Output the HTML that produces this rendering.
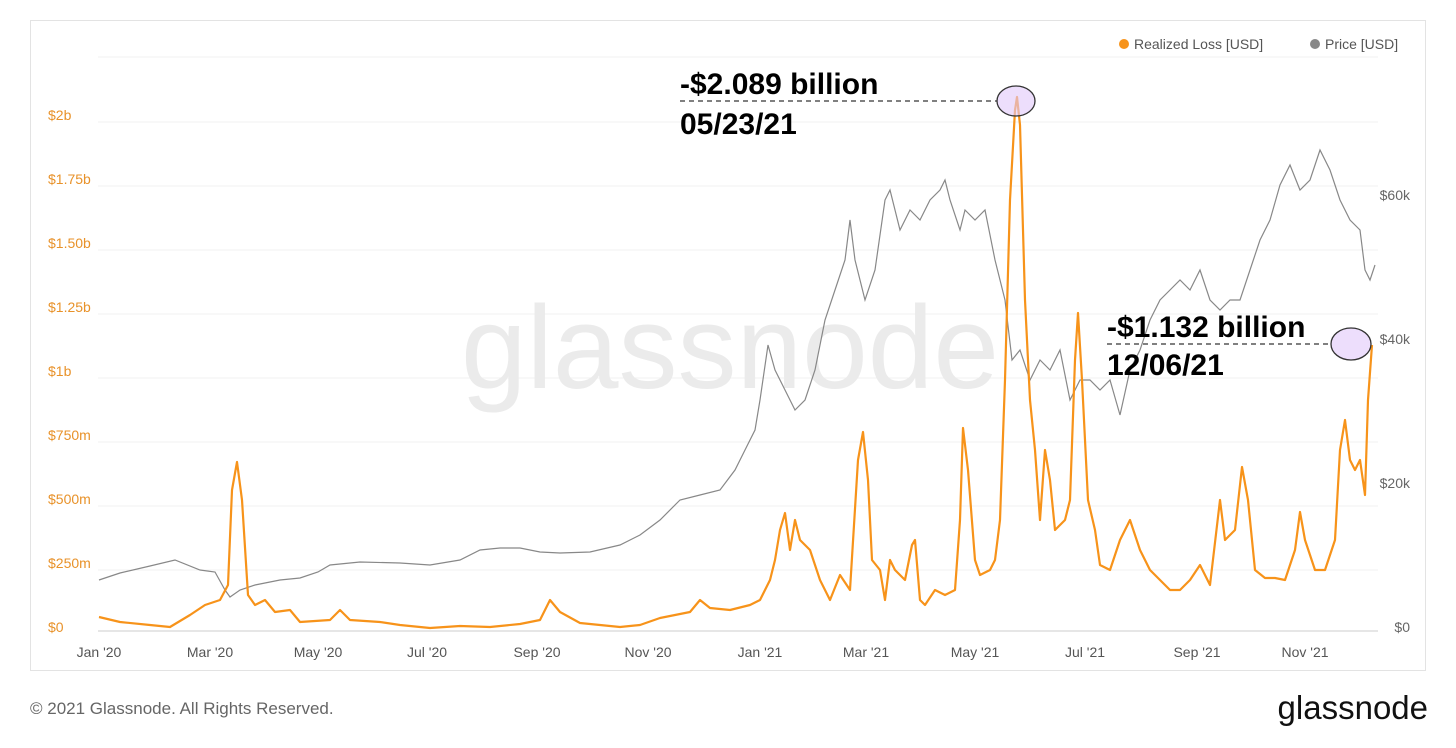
<!DOCTYPE html>
<html><head><meta charset="utf-8"><style>
body{margin:0;background:#fff;width:1456px;height:743px;overflow:hidden;font-family:"Liberation Sans",sans-serif}
</style></head><body>
<svg width="1456" height="743" viewBox="0 0 1456 743" xmlns="http://www.w3.org/2000/svg" font-family="Liberation Sans, sans-serif">
<rect x="30.5" y="20.5" width="1395" height="650" fill="#fff" stroke="#e3e3e3"/>
<g stroke="#f0f0f0" stroke-width="1">
<line x1="98" x2="1378" y1="57" y2="57"/><line x1="98" x2="1378" y1="122" y2="122"/><line x1="98" x2="1378" y1="186" y2="186"/><line x1="98" x2="1378" y1="250" y2="250"/><line x1="98" x2="1378" y1="314" y2="314"/><line x1="98" x2="1378" y1="378" y2="378"/><line x1="98" x2="1378" y1="442" y2="442"/><line x1="98" x2="1378" y1="506" y2="506"/><line x1="98" x2="1378" y1="570" y2="570"/>
</g>
<line x1="98" x2="1378" y1="631" y2="631" stroke="#ccc"/>
<text x="730" y="388" font-size="118" fill="#ebebeb" text-anchor="middle">glassnode</text>
<g font-size="14" fill="#e8922a">
<text x="48" y="120">$2b</text><text x="48" y="184">$1.75b</text><text x="48" y="248">$1.50b</text><text x="48" y="312">$1.25b</text><text x="48" y="376">$1b</text><text x="48" y="440">$750m</text><text x="48" y="504">$500m</text><text x="48" y="568">$250m</text><text x="48" y="632">$0</text>
</g>
<g font-size="14" fill="#666" text-anchor="end">
<text x="1410" y="200">$60k</text><text x="1410" y="344">$40k</text><text x="1410" y="488">$20k</text><text x="1410" y="632">$0</text>
</g>
<g font-size="14" fill="#555" text-anchor="middle">
<text x="99" y="657">Jan '20</text><text x="210" y="657">Mar '20</text><text x="318" y="657">May '20</text><text x="427" y="657">Jul '20</text><text x="537" y="657">Sep '20</text><text x="648" y="657">Nov '20</text><text x="760" y="657">Jan '21</text><text x="866" y="657">Mar '21</text><text x="975" y="657">May '21</text><text x="1085" y="657">Jul '21</text><text x="1197" y="657">Sep '21</text><text x="1305" y="657">Nov '21</text>
</g>
<circle cx="1124" cy="44" r="5" fill="#f7931a"/><text x="1134" y="49" font-size="14" fill="#555">Realized Loss [USD]</text>
<circle cx="1315" cy="44" r="5" fill="#888"/><text x="1325" y="49" font-size="14" fill="#555">Price [USD]</text>
<polyline fill="none" stroke="#888" stroke-width="1.2" points="99,580 120,573 150,566 175,560 200,570 215,572 225,590 230,597 240,590 255,585 280,580 300,578 318,572 330,565 360,562 400,563 430,565 460,560 480,550 500,548 520,548 540,552 560,553 590,552 620,545 640,535 660,520 680,500 700,495 720,490 735,470 745,450 755,430 760,400 768,345 775,370 785,390 795,410 805,400 815,370 825,320 835,290 845,260 850,220 855,260 865,300 875,270 885,200 890,190 900,230 910,210 920,220 930,200 940,190 945,180 950,200 960,230 965,210 975,220 985,210 995,260 1005,300 1012,360 1020,350 1030,380 1040,360 1050,370 1060,350 1070,400 1080,380 1090,380 1100,390 1110,380 1120,415 1130,370 1140,350 1150,320 1160,300 1170,290 1180,280 1190,290 1200,270 1210,300 1220,310 1230,300 1240,300 1250,270 1260,240 1270,220 1280,185 1290,165 1300,190 1310,180 1320,150 1330,170 1340,200 1350,220 1360,230 1365,270 1370,280 1375,265"/>
<polyline fill="none" stroke="#f7931a" stroke-width="2.2" stroke-linejoin="round" points="99,617 120,622 150,625 170,627 190,615 205,605 220,600 228,585 232,490 237,462 242,500 248,595 255,605 265,600 275,612 290,610 300,622 330,620 340,610 350,620 380,622 400,625 430,628 460,626 490,627 520,624 540,620 550,600 560,612 580,623 620,627 640,625 660,618 690,612 700,600 710,608 730,610 750,605 760,600 770,580 775,560 780,530 785,513 790,550 795,520 800,540 810,550 820,580 830,600 840,575 850,590 858,460 863,432 868,480 872,560 880,570 885,600 890,560 895,570 905,580 912,545 915,540 920,600 925,605 935,590 945,595 955,590 960,520 963,428 968,470 975,560 980,575 990,570 995,560 1000,520 1005,380 1010,200 1015,110 1017,97 1020,125 1025,300 1030,400 1035,450 1040,520 1045,450 1050,480 1055,530 1065,520 1070,500 1075,360 1078,313 1082,380 1088,500 1095,530 1100,565 1110,570 1120,540 1130,520 1140,550 1150,570 1160,580 1170,590 1180,590 1190,580 1200,565 1210,585 1220,500 1225,540 1235,530 1242,467 1248,500 1255,570 1265,578 1275,578 1285,580 1295,550 1300,512 1305,540 1315,570 1325,570 1335,540 1340,450 1345,420 1350,460 1355,470 1360,460 1365,495 1368,400 1372,345"/>
<line x1="680" x2="997" y1="101" y2="101" stroke="#000" stroke-dasharray="5,4"/>
<ellipse cx="1016" cy="101" rx="19" ry="15" fill="rgba(225,200,250,0.6)" stroke="#333" stroke-width="1.3"/>
<text x="680" y="94" font-size="30" font-weight="bold">-$2.089 billion</text>
<text x="680" y="134" font-size="30" font-weight="bold">05/23/21</text>
<line x1="1107" x2="1331" y1="344" y2="344" stroke="#000" stroke-dasharray="5,4"/>
<ellipse cx="1351" cy="344" rx="20" ry="16" fill="rgba(225,200,250,0.6)" stroke="#333" stroke-width="1.3"/>
<text x="1107" y="337" font-size="30" font-weight="bold">-$1.132 billion</text>
<text x="1107" y="375" font-size="30" font-weight="bold">12/06/21</text>
<text x="30" y="714" font-size="17" fill="#666">© 2021 Glassnode. All Rights Reserved.</text>
<text x="1428" y="719" font-size="33" fill="#111" text-anchor="end">glassnode</text>
</svg>
</body></html>
